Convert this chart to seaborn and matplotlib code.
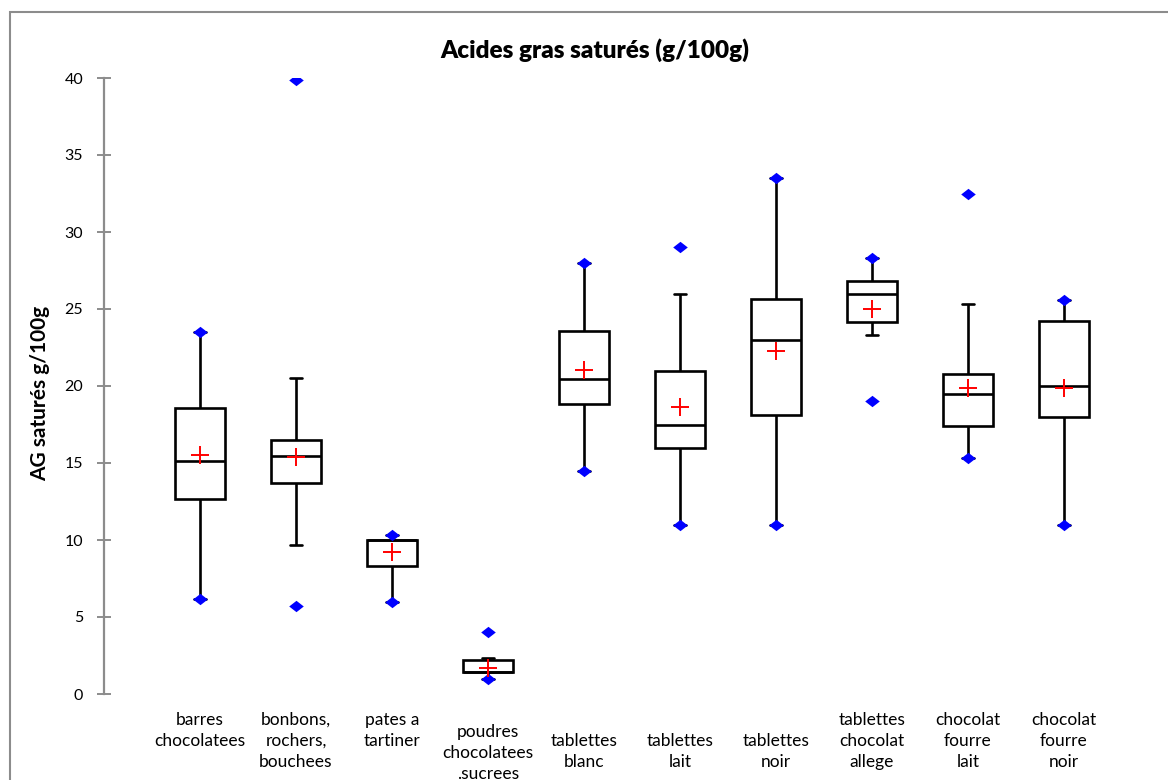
import numpy as np
import pandas as pd
import matplotlib
matplotlib.use("Agg")
import matplotlib.pyplot as plt
from matplotlib.patches import Rectangle
from matplotlib.transforms import offset_copy
import seaborn as sns

# ---------------- data ----------------
categories = ["barres\nchocolatees", "bonbons,\nrochers,\nbouchees", "pates a\ntartiner",
              "poudres\nchocolatees\n.sucrees", "\ntablettes\nblanc", "\ntablettes\nlait",
              "\ntablettes\nnoir", "tablettes\nchocolat\nallege", "chocolat\nfourre\nlait",
              "chocolat\nfourre\nnoir"]
whisker_low  = [6.2, 9.7, 6.0, 1.0, 14.5, 11.0, 11.0, 23.3, 15.3, 11.0]
q1           = [12.65, 13.7, 8.3, 1.4, 18.85, 16.0, 18.1, 24.15, 17.4, 18.0]
median       = [15.1, 15.45, 10.0, 1.45, 20.45, 17.5, 23.0, 26.0, 19.5, 20.0]
q3           = [18.55, 16.5, 10.0, 2.2, 23.55, 21.0, 25.65, 26.8, 20.8, 24.2]
whisker_high = [23.5, 20.5, 10.3, 2.35, 28.0, 26.0, 33.5, 28.3, 25.3, 25.6]
minimum      = [6.2, 5.7, 6.0, 1.0, 14.5, 11.0, 11.0, 19.0, 15.3, 11.0]
maximum      = [23.5, 39.9, 10.3, 4.0, 28.0, 29.0, 33.5, 28.3, 32.5, 25.6]
mean         = [15.5, 15.4, 9.2, 1.7, 21.05, 18.65, 22.25, 25.0, 19.85, 19.9]
y_ticks      = [0, 5, 10, 15, 20, 25, 30, 35, 40]

title = "Acides gras saturés (g/100g)"
ylabel = "AG saturés g/100g"

# five-number summaries per category (whiskers drawn to their ends with whis=(0, 100))
long_df = pd.DataFrame({
    "cat": np.repeat(categories, 5),
    "val": np.column_stack([whisker_low, q1, median, q3, whisker_high]).ravel(),
})

# ---------------- style ----------------
sns.set_theme(style="white")
plt.rcParams["font.family"] = ["Lato", "DejaVu Sans"]
plt.rcParams["text.color"] = "black"
plt.rcParams["xtick.color"] = "black"
plt.rcParams["ytick.color"] = "black"

W, H = 1168, 780
fig = plt.figure(figsize=(W / 100, H / 100), dpi=100)
ax = fig.add_axes([104 / W, 1 - 694 / H, (1160 - 104) / W, (694 - 78) / H])

lw = 1.9
sns.boxplot(data=long_df, x="cat", y="val", order=categories, ax=ax,
            whis=(0, 100), width=0.52, color="white", linecolor="black",
            linewidth=lw, fliersize=0, capwidths=0.13,
            medianprops=dict(color="black", linewidth=lw),
            whiskerprops=dict(color="black", linewidth=lw),
            capprops=dict(color="black", linewidth=lw),
            boxprops=dict(edgecolor="black", facecolor="white", linewidth=lw))

diamond = [(-1, 0), (0, 0.78), (1, 0), (0, -0.78), (-1, 0)]
for vals in (minimum, maximum):
    sns.stripplot(x=categories, y=vals, order=categories, ax=ax, jitter=False,
                  marker=diamond, size=10.5, color="#0000FF", linewidth=0, zorder=5)

sns.stripplot(x=categories, y=mean, order=categories, ax=ax, jitter=False,
              marker="+", size=13.5, color="#FF0000", linewidth=1.4, zorder=6)

ax.set_xlim(-1, 10)
ax.set_ylim(0, 40)
ax.set_yticks(y_ticks)
ax.set_yticklabels([str(t) for t in y_ticks], fontsize=11.5, color="black")
ax.set_xlabel("")
ax.set_ylabel("")

for s in ("top", "right", "bottom"):
    ax.spines[s].set_visible(False)
ax.spines["left"].set_color("#8C8C8C")
ax.spines["left"].set_linewidth(1.6)
ax.tick_params(axis="y", direction="inout", length=10, width=1.4, color="#8C8C8C",
               labelcolor="black", left=True, pad=10)
ax.tick_params(axis="x", length=0, pad=13, labelcolor="black")
ax.set_xticks(range(len(categories)))
ax.set_xticklabels(categories, fontsize=12.5, linespacing=1.38, ha="center", va="top",
                   color="black")
for lbl in ax.get_xticklabels():
    if lbl.get_text().startswith("poudres"):
        lbl.set_transform(offset_copy(lbl.get_transform(), fig=fig, y=-8.5, units="points"))
ax.grid(False)

fig.text(595 / W, 1 - 50 / H, title, ha="center", va="center",
         fontsize=17.5, fontweight="heavy", color="black")
fig.text(40 / W, 1 - 393 / H, ylabel, ha="center", va="center", rotation=90,
         fontsize=15, fontweight="bold", color="black")

fig.add_artist(Rectangle((9.5 / W, -0.2), 1.2, 1 - 12 / H + 0.2, transform=fig.transFigure,
                         fill=False, edgecolor="#8C8C8C", linewidth=1.5))

fig.savefig("out.png", dpi=100)
